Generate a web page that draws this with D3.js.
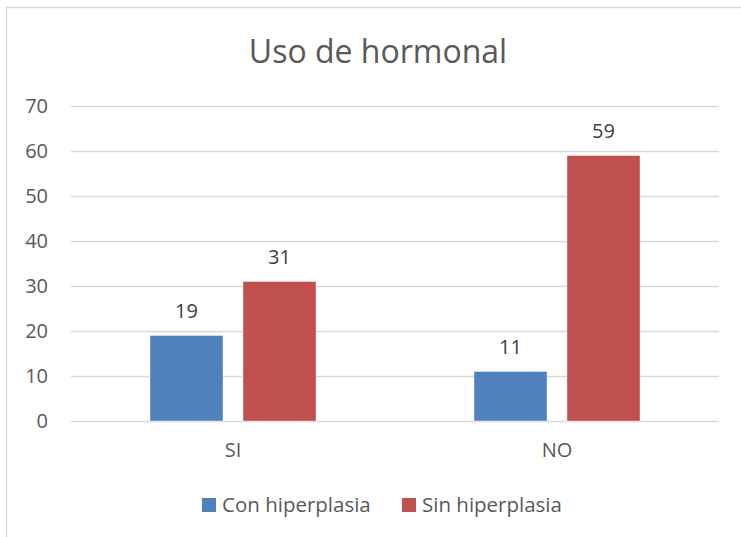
<!DOCTYPE html>
<html>
<head>
<meta charset="utf-8">
<script src="https://cdn.jsdelivr.net/npm/d3@7"></script>
<style>
  body { margin: 0; background: #fff; }
  svg { display: block; font-family: "Open Sans", sans-serif; }
</style>
</head>
<body>
<div id="chart"></div>
<script>
(function drawChart() {
  const WIDTH = 741
  const HEIGHT = 537
  const FONT = 20

  const categories = ['SI', 'NO']
  const seriesNames = ['Con hiperplasia', 'Sin hiperplasia']
  const conHiperplasia = [19, 11]
  const sinHiperplasia = [31, 59]
  const yTicks = [0, 10, 20, 30, 40, 50, 60, 70]
  const colors = ['#4f81bd', '#c0504d']

  const margin = {top: 106, right: 22, bottom: 116, left: 71}

  const svg = d3.select('#chart')
    .append('svg')
    .attr('width', WIDTH)
    .attr('height', HEIGHT)

  // chart area border (cut off on right and bottom)
  svg.append('rect')
    .attr('x', 6.5)
    .attr('y', 7.5)
    .attr('width', WIDTH + 20)
    .attr('height', HEIGHT + 20)
    .attr('fill', '#fff')
    .attr('stroke', '#d9d9d9')
    .attr('stroke-width', 1.5)

  svg.append('text')
    .attr('x', 378)
    .attr('y', 63)
    .attr('text-anchor', 'middle')
    .attr('font-size', 32)
    .attr('fill', '#595959')
    .text('Uso de hormonal')

  const x0 = d3.scaleBand()
    .domain(categories)
    .range([margin.left, WIDTH - margin.right])
    .paddingInner(0)
    .paddingOuter(0)

  const x1 = d3.scaleBand()
    .domain(seriesNames)
    .range([79, x0.bandwidth() - 79])
    .paddingInner(0.215)
    .paddingOuter(0)

  const y = d3.scaleLinear()
    .domain([0, 70])
    .range([HEIGHT - margin.bottom, margin.top])

  // gridlines
  svg.append('g')
    .selectAll('line')
    .data(yTicks)
    .enter()
    .append('line')
    .attr('x1', margin.left)
    .attr('x2', WIDTH - margin.right)
    .attr('y1', (d) => Math.round(y(d)) + 0.5)
    .attr('y2', (d) => Math.round(y(d)) + 0.5)
    .attr('stroke', '#d9d9d9')
    .attr('stroke-width', 1.5)

  const yAxis = svg.append('g')
    .attr('transform', 'translate(' + (margin.left - 8) + ',0)')
    .call(d3.axisLeft(y).tickValues(yTicks).tickSize(0).tickPadding(15))
  yAxis.select('.domain').remove()
  yAxis.selectAll('text')
    .attr('font-size', FONT)
    .attr('font-family', '"Open Sans", sans-serif')
    .attr('fill', '#595959')

  const xAxis = svg.append('g')
    .attr('transform', 'translate(0,' + (HEIGHT - margin.bottom) + ')')
    .call(d3.axisBottom(x0).tickSize(0).tickPadding(22))
  xAxis.select('.domain').remove()
  xAxis.selectAll('text')
    .attr('font-size', FONT)
    .attr('font-family', '"Open Sans", sans-serif')
    .attr('fill', '#595959')

  const series = [conHiperplasia, sinHiperplasia]
  const rows = []
  categories.forEach((cat, i) => {
    seriesNames.forEach((name, j) => {
      rows.push({cat: cat, name: name, value: series[j][i], color: colors[j]})
    })
  })

  const bars = svg.append('g')
  bars.selectAll('rect')
    .data(rows)
    .enter()
    .append('rect')
    .attr('x', (d) => x0(d.cat) + x1(d.name))
    .attr('y', (d) => y(d.value))
    .attr('width', x1.bandwidth())
    .attr('height', (d) => y(0) - y(d.value))
    .attr('fill', (d) => d.color)
    .attr('stroke', '#fff')
    .attr('stroke-opacity', 0.4)
    .attr('stroke-width', 1)

  bars.selectAll('text')
    .data(rows)
    .enter()
    .append('text')
    .attr('x', (d) => x0(d.cat) + x1(d.name) + x1.bandwidth() / 2)
    .attr('y', (d) => y(d.value) - 18)
    .attr('text-anchor', 'middle')
    .attr('font-size', FONT)
    .attr('fill', '#404040')
    .text((d) => d.value)

  // legend
  const legendX = [202, 402]
  const legend = svg.append('g')
  const item = legend.selectAll('g')
    .data(seriesNames)
    .enter()
    .append('g')
    .attr('transform', (d, i) => 'translate(' + legendX[i] + ',498)')
  item.append('rect')
    .attr('width', 14)
    .attr('height', 14)
    .attr('fill', (d, i) => colors[i])
  item.append('text')
    .attr('x', 20)
    .attr('y', 14)
    .attr('font-size', 20.5)
    .attr('fill', '#595959')
    .text((d) => d)
})()
</script>
</body>
</html>
